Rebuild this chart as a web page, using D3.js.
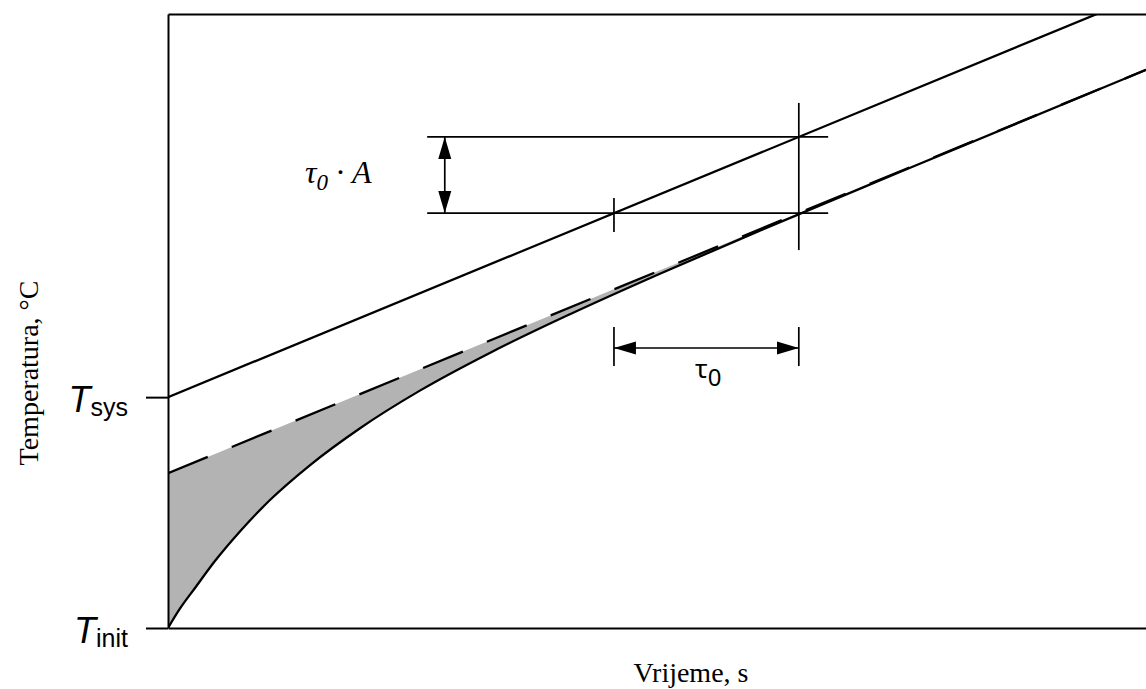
<!DOCTYPE html>
<html>
<head>
<meta charset="utf-8">
<script src="https://cdn.jsdelivr.net/npm/d3@7"></script>
<style>
  body { margin: 0; background: #fff; }
  svg { display: block; }
</style>
</head>
<body>
<div id="chart"></div>
<script>
// lines in arbitrary units: time 0..100, temperature 0..100
const timeDomain = [0, 100];
const tempDomain = [0, 100];

// system temperature (upper straight line)
const sysTime = [0, 100];
const sysTemp = [37.6, 103.3];

// asymptote of the sample (dashed line)
const lagTime = [0, 100];
const lagTemp = [25.2, 90.9];

// sample temperature (curve)
const sampleTime = [0, 1.2, 2.8, 4.8, 7.4, 10.4, 14.5, 19.6, 25.8, 32.9, 41.1, 50.3, 60.5, 74.9, 100];
const sampleTemp = [0, 3.1, 6.6, 10.9, 15.8, 20.8, 26.5, 32.5, 38.7, 44.8, 51.1, 57.7, 64.7, 74.3, 90.9];

// left axis ticks
const yTickValues = [0, 37.6];
const yTickSubs = ['init', 'sys'];

// annotation values
const tauStart = 45.6;
const tauEnd = 64.5;
const tauArrowTemp = 45.6;
const guideFrom = 26.5;
const guideTo = 67.5;
const ampArrowTime = 28.3;

const width = 1146;
const height = 689;
const margin = { top: 14, right: 0, bottom: 61, left: 168 };

const svg = d3.select('#chart').append('svg')
    .attr('width', width)
    .attr('height', height);

const x = d3.scaleLinear()
    .domain(timeDomain)
    .range([margin.left, width - margin.right]);

const y = d3.scaleLinear()
    .domain(tempDomain)
    .range([height - margin.bottom, margin.top]);

const lag = d3.scaleLinear().domain(lagTime).range(lagTemp);
const sys = d3.scaleLinear().domain(sysTime).range(sysTemp);

svg.append('defs').append('clipPath')
    .attr('id', 'plotClip')
  .append('rect')
    .attr('x', x(timeDomain[0]))
    .attr('y', y(tempDomain[1]))
    .attr('width', x(timeDomain[1]) - x(timeDomain[0]))
    .attr('height', y(tempDomain[0]) - y(tempDomain[1]));

const marker = svg.select('defs').append('marker')
    .attr('id', 'arrow')
    .attr('viewBox', '0 -7 22 14')
    .attr('refX', 22)
    .attr('refY', 0)
    .attr('markerWidth', 22)
    .attr('markerHeight', 14)
    .attr('markerUnits', 'userSpaceOnUse')
    .attr('orient', 'auto-start-reverse');
marker.append('path')
    .attr('d', 'M0,-6.5L22,0L0,6.5Z')
    .attr('fill', '#000');

const plot = svg.append('g').attr('clip-path', 'url(#plotClip)');

// shaded lag area between curve and asymptote
const pts = sampleTime.map((t, i) => [t, sampleTemp[i]]);
plot.append('path')
    .datum(pts)
    .attr('fill', '#b3b3b3')
    .attr('d', d3.area()
        .x(d => x(d[0]))
        .y0(d => y(d[1]))
        .y1(d => y(lag(d[0])))
        .curve(d3.curveMonotoneX));

const line = d3.line()
    .x(d => x(d[0]))
    .y(d => y(d[1]));

plot.append('path')
    .datum(sysTime.map((t, i) => [t, sysTemp[i]]))
    .attr('fill', 'none')
    .attr('stroke', '#000')
    .attr('stroke-width', 2.3)
    .attr('d', line);

plot.append('path')
    .datum(lagTime.map((t, i) => [t, lagTemp[i]]))
    .attr('fill', 'none')
    .attr('stroke', '#000')
    .attr('stroke-width', 2.3)
    .attr('stroke-dasharray', '43,26')
    .attr('d', line);

plot.append('path')
    .datum(pts)
    .attr('fill', 'none')
    .attr('stroke', '#000')
    .attr('stroke-width', 2.3)
    .attr('d', line.curve(d3.curveMonotoneX));

// frame
const yAxis = svg.append('g')
    .attr('transform', `translate(${margin.left},0)`)
    .call(d3.axisLeft(y)
        .tickValues(yTickValues)
        .tickSize(22)
        .tickSizeOuter(0)
        .tickPadding(18)
        .tickFormat(''));

svg.append('g')
    .attr('transform', `translate(0,${y(tempDomain[0])})`)
    .call(d3.axisBottom(x).tickValues([]).tickSizeOuter(0));

svg.append('g')
    .attr('transform', `translate(0,${y(tempDomain[1])})`)
    .call(d3.axisTop(x).tickValues([]).tickSizeOuter(0));

svg.selectAll('.domain, .tick line')
    .attr('stroke', '#000')
    .attr('stroke-width', 2);

// T labels on the left axis
yAxis.selectAll('.tick text')
    .attr('font-family', '"Liberation Sans", Arial, sans-serif')
    .attr('fill', '#000')
    .attr('dy', null)
    .attr('y', 14)
    .each(function(d, i) {
        const t = d3.select(this);
        t.append('tspan').attr('font-size', 36).attr('font-style', 'italic').text('T');
        t.append('tspan').attr('font-size', 25).attr('dy', 4).text(yTickSubs[i]);
    });

// annotation: tau0 * A
const ann = svg.append('g')
    .attr('stroke', '#000')
    .attr('stroke-width', 1.7);

[sys(tauEnd), lag(tauEnd)].forEach(v => {
    ann.append('line')
        .attr('x1', x(guideFrom)).attr('x2', x(guideTo))
        .attr('y1', y(v)).attr('y2', y(v));
});

ann.append('line')
    .attr('x1', x(ampArrowTime)).attr('x2', x(ampArrowTime))
    .attr('y1', y(sys(tauEnd))).attr('y2', y(lag(tauEnd)))
    .attr('marker-start', 'url(#arrow)')
    .attr('marker-end', 'url(#arrow)');

// vertical marks at tau start / end
ann.append('line')
    .attr('x1', x(tauStart)).attr('x2', x(tauStart))
    .attr('y1', y(lag(tauEnd)) - 15).attr('y2', y(lag(tauEnd)) + 19);
ann.append('line')
    .attr('x1', x(tauEnd)).attr('x2', x(tauEnd))
    .attr('y1', y(sys(tauEnd)) - 34).attr('y2', y(lag(tauEnd)) + 37);

// tau0 span arrow
[tauStart, tauEnd].forEach(t => {
    ann.append('line')
        .attr('x1', x(t)).attr('x2', x(t))
        .attr('y1', y(tauArrowTemp) - 21).attr('y2', y(tauArrowTemp) + 18);
});
ann.append('line')
    .attr('x1', x(tauStart)).attr('x2', x(tauEnd))
    .attr('y1', y(tauArrowTemp)).attr('y2', y(tauArrowTemp))
    .attr('marker-start', 'url(#arrow)')
    .attr('marker-end', 'url(#arrow)');

const tauLabel = svg.append('text')
    .attr('x', 695)
    .attr('y', 378)
    .attr('font-family', '"Noto Sans", "Liberation Sans", sans-serif')
    .attr('font-size', 26)
    .attr('fill', '#000');
tauLabel.append('tspan').text('τ');
tauLabel.append('tspan').attr('dy', 8).attr('font-size', 24).text('0');

const ampLabel = svg.append('text')
    .attr('x', 305)
    .attr('y', 183)
    .attr('font-family', '"Liberation Serif", "Times New Roman", serif')
    .attr('font-style', 'italic')
    .attr('font-size', 32)
    .attr('fill', '#000');
ampLabel.append('tspan').text('τ');
ampLabel.append('tspan').attr('dy', 7).attr('font-size', 23).text('0');
ampLabel.append('tspan').attr('dy', -7).text(' · A');

// axis titles
svg.append('text')
    .attr('x', 691)
    .attr('y', 682)
    .attr('text-anchor', 'middle')
    .attr('font-family', '"Liberation Serif", "Times New Roman", serif')
    .attr('font-size', 28)
    .attr('fill', '#000')
    .text('Vrijeme, s');

svg.append('text')
    .attr('transform', 'translate(38,373) rotate(-90)')
    .attr('text-anchor', 'middle')
    .attr('font-family', '"Liberation Serif", "Times New Roman", serif')
    .attr('font-size', 28)
    .attr('fill', '#000')
    .text('Temperatura, °C');
</script>
</body>
</html>
